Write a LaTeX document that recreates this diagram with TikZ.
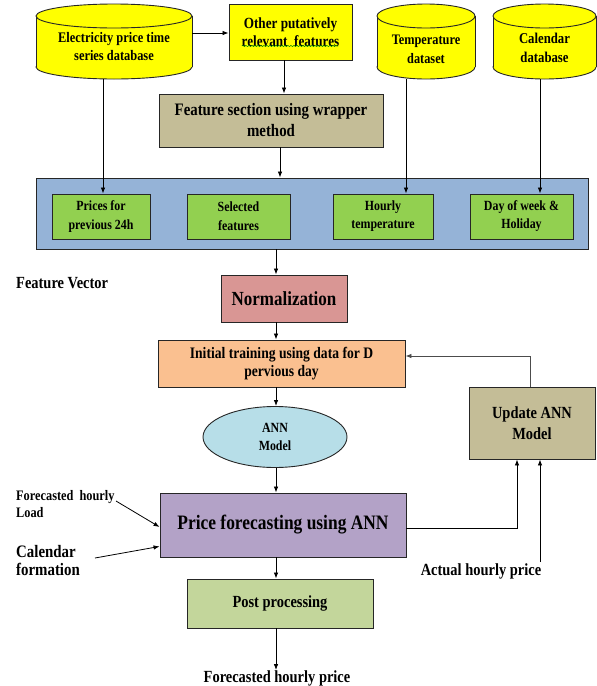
\documentclass[tikz,border=0pt]{standalone}
\usepackage{fontspec}
\setmainfont{Liberation Serif}[FakeStretch=0.85]
\usetikzlibrary{arrows.meta,shapes.geometric,decorations.pathmorphing,calc}

\definecolor{dbyellow}{HTML}{FFFF00}
\definecolor{khaki}{HTML}{C4BD97}
\definecolor{bandblue}{HTML}{95B3D7}
\definecolor{leafgreen}{HTML}{92D050}
\definecolor{rose}{HTML}{D99694}
\definecolor{peach}{HTML}{FAC090}
\definecolor{skyblue}{HTML}{B7DEE8}
\definecolor{lavender}{HTML}{B3A2C7}
\definecolor{sage}{HTML}{C3D69B}

% bold text of a given size and line spacing
\newcommand\txt[2]{\fontsize{#1}{#2}\selectfont\bfseries}

% database cylinder: centre x, x radius, top-centre y, bottom-centre y, fill
\newcommand\dbshape[5]{%
  \draw[outline, fill=#5] (#1,#4) ellipse [x radius=#2, y radius=12];
  \fill[#5] (#1-#2,#3) rectangle (#1+#2,#4);
  \draw[outline] (#1-#2,#3) -- (#1-#2,#4) (#1+#2,#3) -- (#1+#2,#4);
  \draw[outline, fill=#5] (#1,#3) ellipse [x radius=#2, y radius=12];}

\begin{document}
\begin{tikzpicture}[x=1pt,y=-1pt,
  outline/.style={draw=black!85, line width=0.9pt},
  box/.style={outline, rectangle, inner sep=0pt, align=center},
  lbl/.style={inner sep=0pt, align=left},
  arr/.style={-{Latex[length=6pt,width=4.5pt]}, line width=0.8pt, draw=black}]
\useasboundingbox (0,0) rectangle (597,686);

% ---- data sources ----
\dbshape{114}{78}{16}{67}{dbyellow}
\node[inner sep=0pt, minimum width=156pt, minimum height=75pt] (pricedb) at (114,41.5) {};
\node[lbl, align=center, font=\txt{14.6}{18}] (pricedb-txt) at (114,47) {Electricity price time\\series database};

\node[box, fill=dbyellow, minimum width=123pt, minimum height=56pt, font=\txt{15.5}{18}] (other) at (290.5,32) {Other putatively\\relevant\ \ features};
\draw[green!55!black, line width=0.5pt, decorate, decoration={snake, amplitude=0.6pt, segment length=3pt}] (242,46) -- (338,46);

\dbshape{426}{49}{16}{67}{dbyellow}
\node[inner sep=0pt, minimum width=98pt, minimum height=75pt] (tempdb) at (426,41.5) {};
\node[lbl, align=center, font=\txt{14.5}{19}] (tempdb-txt) at (426,49) {Temperature\\dataset};

\dbshape{544.5}{51.5}{16}{67}{dbyellow}
\node[inner sep=0pt, minimum width=103pt, minimum height=75pt] (caldb) at (544.5,41.5) {};
\node[lbl, align=center, font=\txt{15}{19}] (caldb-txt) at (544.5,47.5) {Calendar\\database};

\node[box, fill=khaki, minimum width=224pt, minimum height=53pt, font=\txt{17.5}{21}] (fsel) at (271,120.5) {Feature section using wrapper\\method};

% ---- feature vector ----
\node[box, fill=bandblue, minimum width=552pt, minimum height=71pt] (band) at (312,213.5) {};
\node[box, fill=leafgreen, minimum width=98pt, minimum height=45pt, font=\txt{14}{19}] (prices) at (101,216.5) {Prices for\\previous 24h};
\node[box, fill=leafgreen, minimum width=103pt, minimum height=45pt, font=\txt{14}{19}] (selected) at (238.5,216.5) {Selected\\features};
\node[box, fill=leafgreen, minimum width=100pt, minimum height=45pt, font=\txt{14}{18}] (hourly) at (383,216.5) {Hourly\\temperature};
\node[box, fill=leafgreen, minimum width=103pt, minimum height=45pt, font=\txt{14}{18}] (day) at (521.5,216.5) {Day of week \&\\Holiday};
\node[lbl, anchor=west, font=\txt{17}{20}] (fvec) at (16,283) {Feature Vector};

% ---- model chain ----
\node[box, fill=rose, minimum width=126pt, minimum height=47pt, font=\txt{20}{24}] (norm) at (284,298.5) {Normalization};
\node[box, fill=peach, minimum width=247pt, minimum height=47pt, font=\txt{16}{18}] (init) at (281.5,363.5) {Initial training using data for D\\pervious day};
\node[outline, ellipse, fill=skyblue, minimum width=144pt, minimum height=61pt, inner sep=0pt, align=center, font=\txt{14}{18}] (ann) at (275,437) {ANN\\Model};
\node[box, fill=khaki, minimum width=126pt, minimum height=72pt, font=\txt{17}{21}] (upd) at (532,423) {Update ANN\\Model};
\node[box, fill=lavender, minimum width=246pt, minimum height=64pt, font=\txt{20.5}{24}] (price) at (283,525) {Price forecasting using ANN};
\node[box, fill=sage, minimum width=186pt, minimum height=49pt, font=\txt{17}{20}] (post) at (280,603.5) {Post processing};

\node[lbl, font=\txt{17}{20}] (out) at (277,678) {Forecasted hourly price};
\node[lbl, font=\txt{17}{20}] (actual) at (481,571) {Actual hourly price};
\node[lbl, anchor=west, font=\txt{14.5}{17}] (fload) at (16,504.5) {Forecasted\ \ hourly\\Load};
\node[lbl, anchor=west, font=\txt{17.5}{18}] (calf) at (16,561) {Calendar\\formation};

\coordinate (axis) at (276,0);
\coordinate (fload-tail) at (116,501);
\coordinate (calf-tail) at (95,558);
\coordinate (actual-tail) at (540,562);

% ---- connectors ----
\draw[arr] ([yshift=8.5pt]pricedb.east) -- ([yshift=8.5pt]pricedb.east -| other.west);
\draw[arr] ([xshift=-6.5pt]other.south) -- ([xshift=-6.5pt]other.south |- fsel.north);
\draw[arr] ([xshift=-11pt]pricedb.south) -- ([xshift=-11pt]pricedb.south |- prices.north);
\draw[arr] ([xshift=9pt]fsel.south) -- ([xshift=9pt]fsel.south |- band.north);
\draw[arr] ([xshift=-20pt]tempdb.south) -- ([xshift=-20pt]tempdb.south |- hourly.north);
\draw[arr] ([xshift=-4.5pt]caldb.south) -- ([xshift=-4.5pt]caldb.south |- day.north);

\draw[arr] (band.south -| axis) -- (norm.north -| axis);
\draw[arr] (norm.south -| axis) -- (init.north -| axis);
\draw[arr] (init.south -| axis) -- (ann.north -| axis);
\draw[arr] (ann.south -| axis) -- (price.north -| axis);
\draw[arr] (price.south -| axis) -- (post.north -| axis);
\draw[arr] (post.south -| axis) -- (out.north -| axis);

\draw[arr, draw=black!70] ([xshift=-2pt]upd.north) |- ([yshift=7.5pt]init.east);
\draw[arr] ([yshift=-3pt]price.east) -| ([xshift=-15pt]upd.south);
\draw[arr] (actual-tail) -- (actual-tail |- upd.south);
\draw[arr] (fload-tail) -- ([yshift=-2pt]price.west);
\draw[arr] (calf-tail) -- ($(price.south west)+(0,-11)$);
\end{tikzpicture}
\end{document}
